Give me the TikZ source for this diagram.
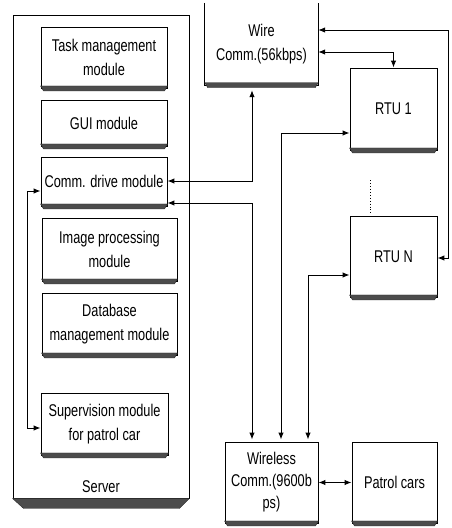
\documentclass[tikz,border=0pt]{standalone}
\usepackage{fontspec}
\setmainfont{Liberation Sans}[FakeStretch=0.75]
\usetikzlibrary{arrows.meta,calc}
\tikzset{
  box/.style={draw, line width=0.9pt, rectangle, inner sep=0pt, align=center,
    font=\fontsize{17}{24}\selectfont},
  lbl/.style={inner sep=0pt, align=center, font=\fontsize{17}{24}\selectfont},
  link/.style={line width=1pt, {Latex[length=7pt,width=5.5pt]}-{Latex[length=7pt,width=5.5pt]}},
  shade/.style={fill=black!70, draw=black!85, line width=0.4pt}
}
\newcommand{\bottomband}[1]{%
  \fill[shade] ([yshift=2.5pt]#1.south west) -- ([xshift=3pt,yshift=-2.5pt]#1.south west)
    -- ([xshift=-3pt,yshift=-2.5pt]#1.south east) -- ([yshift=2.5pt]#1.south east) -- cycle;}
\begin{document}
\begin{tikzpicture}[x=1pt,y=-1pt]
\useasboundingbox (0,0) rectangle (452,528);
% server
\node[box, minimum width=176pt, minimum height=483pt] (server) at (101,256.5) {};
\fill[shade] (server.south west) -- ([xshift=11pt,yshift=-10pt]server.south west)
  -- ([xshift=-10pt,yshift=-10pt]server.south east) -- (server.south east) -- cycle;
\node[lbl] (serverlbl) at (101,487) {Server};
% modules
\node[box, minimum width=126pt, minimum height=61pt] (task) at (104,57.5) {Task management\\module};
\node[box, minimum width=126pt, minimum height=46pt] (gui) at (104,123) {GUI module};
\node[box, minimum width=126pt, minimum height=49pt] (comm) at (104,181.5) {Comm. drive module};
\node[box, minimum width=135pt, minimum height=63pt] (img) at (109.5,249.5) {Image processing\\module};
\node[box, minimum width=135pt, minimum height=62pt] (db) at (109.5,324) {Database\\management module};
\node[box, minimum width=127pt, minimum height=62pt] (sup) at (104.5,424) {Supervision module\\for patrol car};
\foreach \n in {task,gui,comm,img,db,sup}{\bottomband{\n}}
% wire comm (open at the top)
\node[lbl, minimum width=113pt, minimum height=82pt] (wire) at (261.5,44) {Wire\\Comm.(56kbps)};
\draw[line width=0.9pt] (wire.north west) -- (wire.south west) -- (wire.south east) -- (wire.north east);
\bottomband{wire}
% RTUs
\node[box, minimum width=87pt, minimum height=82pt] (rtu1) at (393.5,109) {RTU 1};
\node[box, minimum width=87pt, minimum height=81pt] (rtun) at (393.5,256.5) {RTU N};
\bottomband{rtu1}\bottomband{rtun}
\draw[dotted, line width=0.9pt, shorten <=30pt, shorten >=3pt] (rtu1.south -| 370,0) -- (rtun.north -| 370,0);
% wireless + patrol
\node[box, minimum width=93pt, minimum height=81pt, font=\fontsize{17}{22}\selectfont] (wl) at (271.5,482.5) {Wireless\\Comm.(9600b\\ps)};
\node[box, minimum width=85pt, minimum height=81pt] (pc) at (394.5,482.5) {Patrol cars};
\bottomband{wl}\bottomband{pc}
% connectors
\draw[link] (wire.east |- 0,30) -- (448,30) |- (rtun.east |- 0,258);
\draw[link] (wire.east |- 0,52) -| (rtu1.north);
\draw[link] (comm.east |- 0,181) -| ([yshift=-5pt]wire.south -| 252,0);
\draw[link] (comm.east |- 0,203) -| ([yshift=2pt]wl.north -| 252,0);
\draw[link] (rtu1.west |- 0,133) -| ([yshift=2pt]wl.north -| 281,0);
\draw[link] (rtun.west |- 0,275) -| ([yshift=2pt]wl.north -| 308,0);
\draw[link] (wl.east) -- (pc.west);
\draw[link] (comm.west |- 0,191) -- (27,191) |- (sup.west |- 0,428);
\end{tikzpicture}
\end{document}
